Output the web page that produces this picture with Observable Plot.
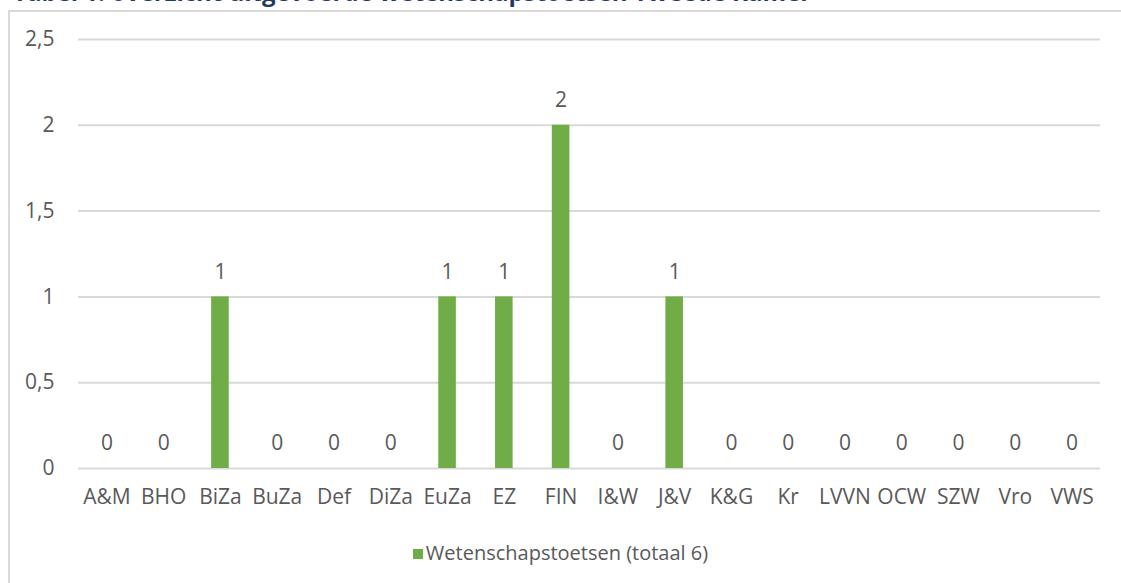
<!DOCTYPE html>
<html>
<head>
<meta charset="utf-8">
<script src="https://cdn.jsdelivr.net/npm/d3@7"></script>
<script src="https://cdn.jsdelivr.net/npm/@observablehq/plot@0.6"></script>
<style>
  html, body { margin: 0; padding: 0; background: #fff; overflow: hidden; }
  body { width: 1121px; height: 583px; position: relative; font-family: "Open Sans", sans-serif; }
  #title { position: absolute; left: 13px; top: -20px; font: bold 24px/24px "Open Sans", sans-serif; color: #1F3864; white-space: nowrap; }
  #box { position: absolute; left: 8px; top: 10px; width: 1130px; height: 600px; border: 2px solid #D9D9D9; box-sizing: border-box; }
  #chart { position: absolute; left: 0; top: 0; }
  #legend { position: absolute; left: 0; width: 1121px; top: 540px; text-align: center; font: 20px/26px "Open Sans", sans-serif; color: #595959; }
  #legend .sw { display: inline-block; width: 10px; height: 10px; background: #70AD47; margin-right: 3px; vertical-align: 1px; }
</style>
</head>
<body>
<div id="title">Tabel 1: overzicht uitgevoerde wetenschapstoetsen Tweede Kamer</div>
<div id="box"></div>
<div id="chart"></div>
<div id="legend"><span class="sw"></span>Wetenschapstoetsen (totaal 6)</div>
<script>
const categories = ["A&M","BHO","BiZa","BuZa","Def","DiZa","EuZa","EZ","FIN","I&W","J&V","K&G","Kr","LVVN","OCW","SZW","Vro","VWS"];
const values = [0,0,1,0,0,0,1,1,2,0,1,0,0,0,0,0,0,0];
const yTicks = [0,0.5,1,1.5,2,2.5];
const yTickLabels = ["0","0,5","1","1,5","2","2,5"];

const data = categories.map((c, i) => ({cat: c, value: values[i]}));

const chart = Plot.plot({
  width: 1121,
  height: 520,
  marginLeft: 78,
  marginRight: 21,
  marginTop: 39,
  marginBottom: 52,
  style: {fontFamily: "Open Sans, sans-serif", fontSize: "21px", color: "#595959", background: "transparent", overflow: "visible"},
  x: {domain: categories, paddingInner: 0.69, paddingOuter: 0.345, round: false, label: null},
  y: {domain: [0, 2.5], label: null},
  marks: [
    Plot.gridY(yTicks, {stroke: "#D9D9D9", strokeOpacity: 1, strokeWidth: 2}),
    Plot.barY(data, {x: "cat", y: "value", fill: "#70AD47"}),
    Plot.text(data, {x: "cat", y: "value", text: d => String(d.value), dy: -25, fill: "#595959", fontSize: 21}),
    Plot.axisY(yTicks, {tickSize: 0, tickPadding: 24, tickFormat: (d) => yTickLabels[yTicks.indexOf(d)], fontSize: 21, fill: "#595959", label: null}),
    Plot.axisX({tickSize: 0, tickPadding: 21, fontSize: 21, fill: "#595959", label: null})
  ]
});
document.getElementById("chart").appendChild(chart);
</script>
</body>
</html>
